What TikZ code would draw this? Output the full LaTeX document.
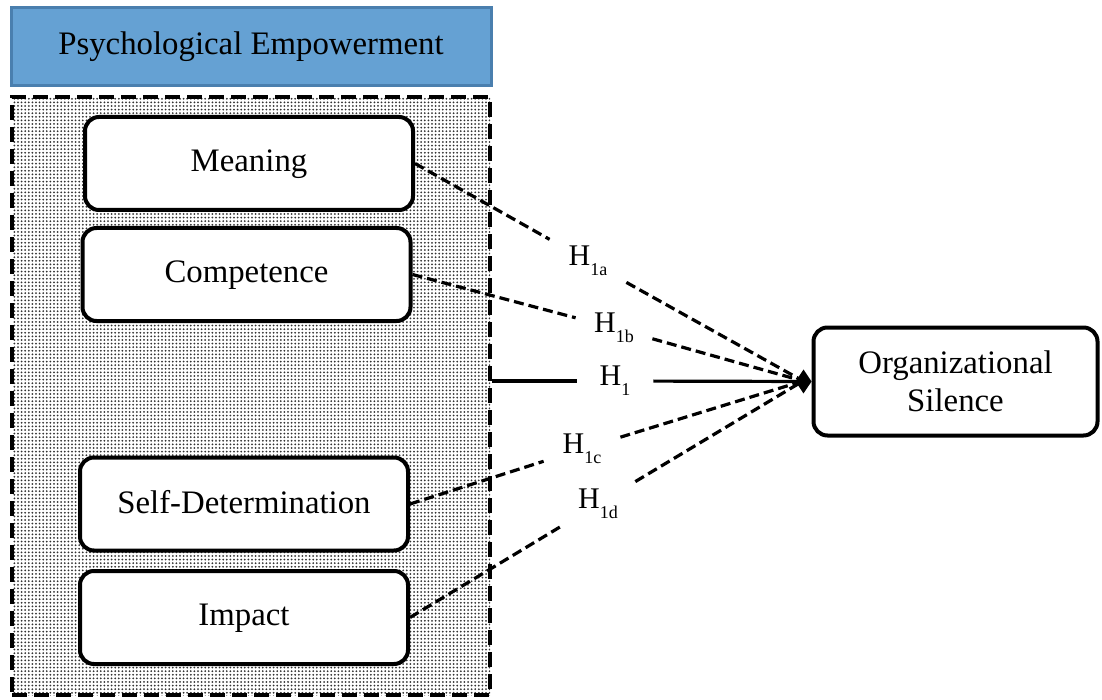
\documentclass[tikz,border=0pt]{standalone}
\usepackage{fontspec}
\setmainfont{Liberation Serif}
\usetikzlibrary{arrows.meta,patterns.meta}

\definecolor{peblue}{HTML}{65A1D3}
\definecolor{peedge}{HTML}{4A7FAE}

\tikzset{
  header/.style={draw=peedge, line width=1.5pt, fill=peblue, minimum width=240pt, minimum height=39pt, font=\fontsize{16.4}{19}\selectfont},
  groupbox/.style={draw, line width=2pt, dash pattern=on 7.5pt off 3.5pt, pattern={Dots[distance=1.8pt, radius=0.5pt]}, pattern color=black!80, minimum width=239pt, minimum height=299pt},
  factor/.style={draw, line width=2pt, rounded corners=7pt, fill=white, minimum width=164pt, minimum height=46.5pt, text depth=0.25em, font=\fontsize{16.4}{19}\selectfont},
  hlabel/.style={minimum width=38pt, minimum height=22pt, inner sep=0pt, font=\fontsize{15}{18}\selectfont},
  hypline/.style={line width=1.6pt, dash pattern=on 5pt off 2.5pt},
}
\newcommand{\hyp}[1]{H\raisebox{-5pt}{\fontsize{9}{9}\selectfont #1}}

\begin{document}
\begin{tikzpicture}[x=0.5pt, y=-0.5pt]
  \useasboundingbox (0,0) rectangle (1102,700);

  % left block
  \node[header] (pe) at (251,47) {Psychological Empowerment};
  \node[groupbox] (grp) at (251,396) {};

  \node[factor] (meaning) at (249,163.5) {Meaning};
  \node[factor] (competence) at (246.5,274.5) {Competence};
  \node[factor] (selfdet) at (244,504) {Self-Determination};
  \node[factor] (impact) at (244,617.5) {Impact};

  % outcome
  \node[factor, minimum width=142pt, minimum height=54pt, text depth=0pt, align=center] (os) at (955.5,381.5) {Organizational\\Silence};
  \coordinate (hub) at (803,381);

  % hypotheses
  \node[hlabel] (h1a) at (588,261) {\hyp{1a}};
  \node[hlabel] (h1b) at (614,328) {\hyp{1b}};
  \node[hlabel] (h1) at (615,381) {\hyp{1}};
  \node[hlabel] (h1c) at (582,449) {\hyp{1c}};
  \node[hlabel] (h1d) at (598,504) {\hyp{1d}};

  \draw[hypline] (meaning.east) -- (h1a) -- (hub);
  \draw[hypline] (competence.east) -- (h1b) -- (hub);
  \draw[hypline] (selfdet.east) -- (h1c) -- (hub);
  \draw[hypline] (impact.east) -- (h1d) -- (hub);
  \draw[line width=1.6pt] (grp.east |- hub) -- (h1);
  \draw[line width=1.6pt, -{Diamond[length=8pt, width=12pt]}] (h1) -- (os.west);
\end{tikzpicture}
\end{document}
